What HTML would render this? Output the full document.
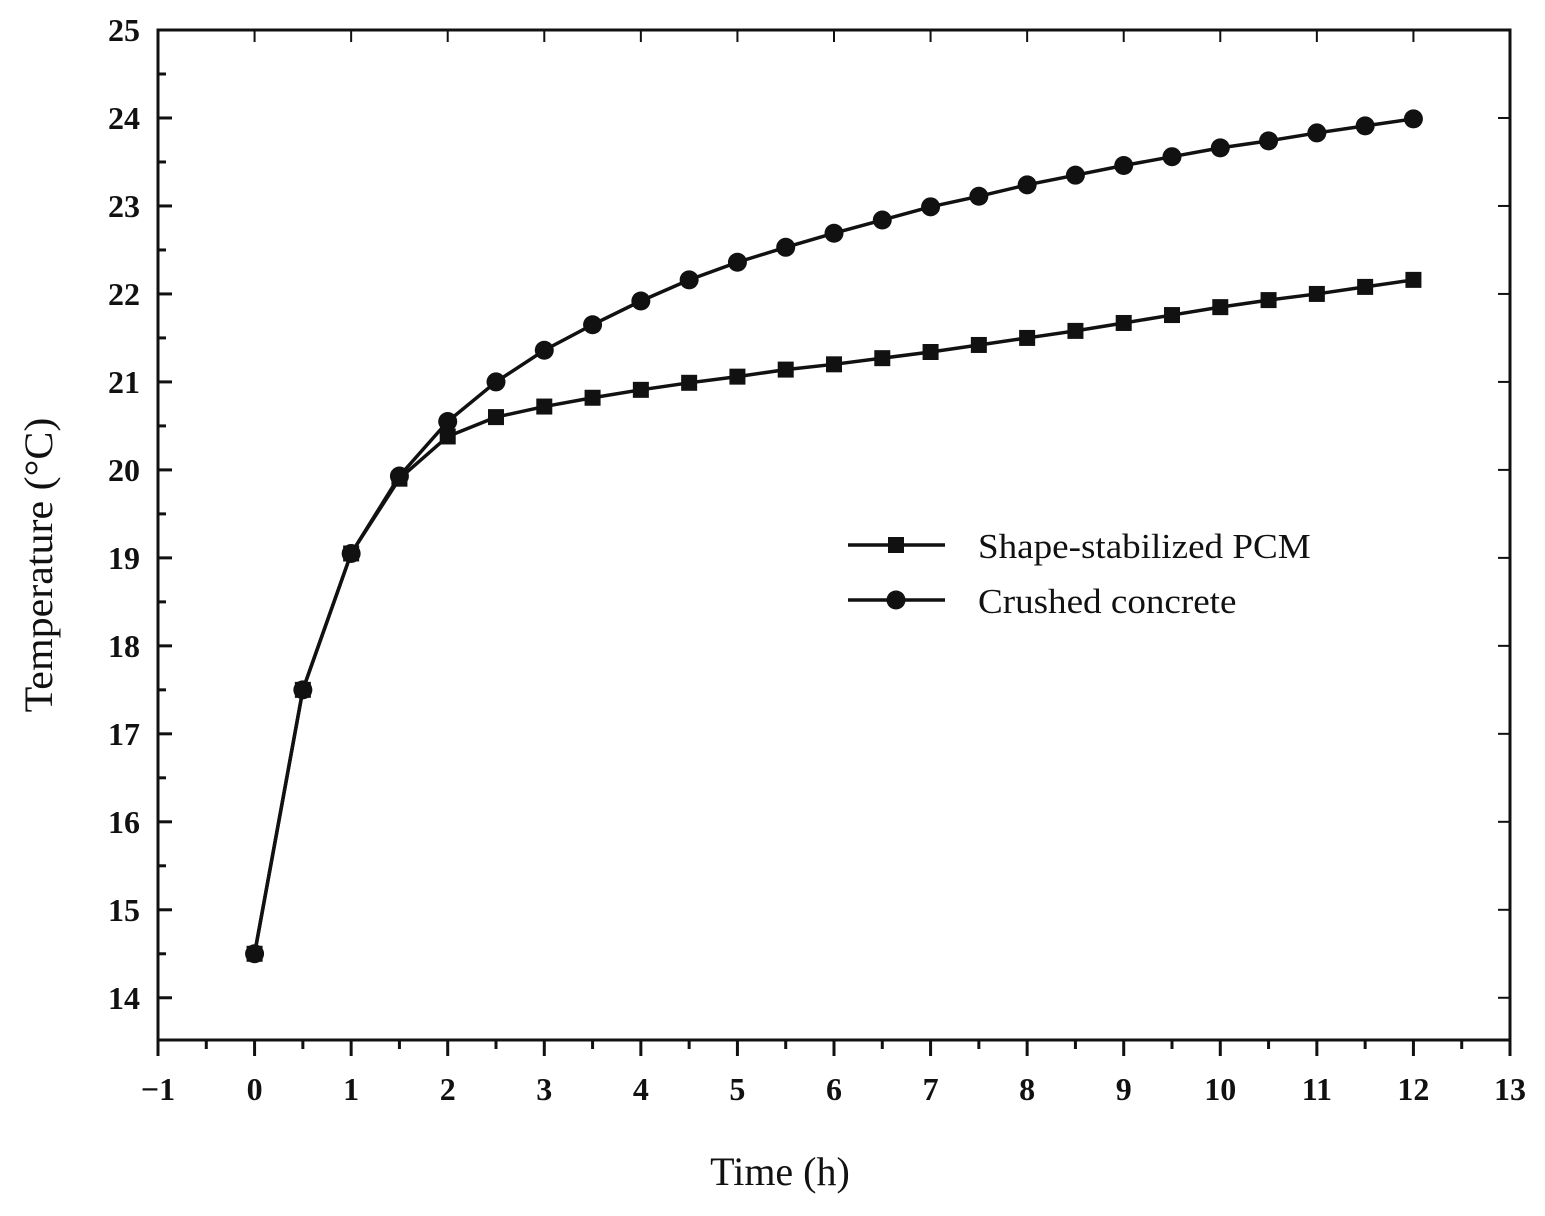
<!DOCTYPE html>
<html><head><meta charset="utf-8"><style>
html,body{margin:0;padding:0;background:#fff;}
svg{display:block;}
text{font-family:"Liberation Serif",serif;fill:#111;}
</style></head><body>
<svg id="chart" width="1545" height="1216" viewBox="0 0 1545 1216"></svg>
<script>
const times=[0,0.5,1,1.5,2,2.5,3,3.5,4,4.5,5,5.5,6,6.5,7,7.5,8,8.5,9,9.5,10,10.5,11,11.5,12];
const pcmValues=[14.5,17.5,19.05,19.9,20.38,20.6,20.72,20.82,20.91,20.99,21.06,21.14,21.2,21.27,21.34,21.42,21.5,21.58,21.67,21.76,21.85,21.93,22.0,22.08,22.16];
const concreteValues=[14.5,17.5,19.05,19.93,20.55,21.0,21.36,21.65,21.92,22.16,22.36,22.53,22.69,22.84,22.99,23.11,23.24,23.35,23.46,23.56,23.66,23.74,23.83,23.91,23.99];
const xTicks=[-1,0,1,2,3,4,5,6,7,8,9,10,11,12,13];
const yTicks=[14,15,16,17,18,19,20,21,22,23,24,25];
const seriesNames=["Shape-stabilized PCM","Crushed concrete"];

const L=158,R=1510,T=30,B=1040;
const xMin=-1,xMax=13,yMin=13.52,yMax=25;
const sx=v=>L+(v-xMin)/(xMax-xMin)*(R-L);
const sy=v=>B-(v-yMin)/(yMax-yMin)*(B-T);
const svg=document.getElementById('chart');
const NS='http://www.w3.org/2000/svg';
function mk(tag,attrs,parent){const e=document.createElementNS(NS,tag);for(const k in attrs)e.setAttribute(k,attrs[k]);(parent||svg).appendChild(e);return e;}

const frame=mk('rect',{x:L,y:T,width:R-L,height:B-T,fill:'none',stroke:'#111','stroke-width':3});



const xg=mk('g',{});


xTicks.forEach((t,i)=>{
  const x=sx(t);
  mk('line',{x1:x,y1:B,x2:x,y2:B+16,stroke:'#111','stroke-width':3},xg);
  mk('line',{x1:x,y1:T,x2:x,y2:T+12,stroke:'#111','stroke-width':2},xg);
  if(i<xTicks.length-1){const xm=sx(t+0.5);mk('line',{x1:xm,y1:B,x2:xm,y2:B+9,stroke:'#111','stroke-width':3},xg);}
  const lb=mk('text',{x:x,y:B+60,'font-size':32,'font-weight':'bold','text-anchor':'middle'},xg);
  lb.textContent=(t<0?'\u2212'+Math.abs(t):t);
  
  
});
const yg=mk('g',{});


yTicks.forEach((t,i)=>{
  const y=sy(t);
  mk('line',{x1:L,y1:y,x2:L+14,y2:y,stroke:'#111','stroke-width':3},yg);
  mk('line',{x1:R,y1:y,x2:R-12,y2:y,stroke:'#111','stroke-width':2},yg);
  if(i<yTicks.length-1){const ym=sy(t+0.5);mk('line',{x1:L,y1:ym,x2:L+8,y2:ym,stroke:'#111','stroke-width':3},yg);}
  const lb=mk('text',{x:L-18,y:y+11,'font-size':32,'font-weight':'bold','text-anchor':'end'},yg);
  lb.textContent=t;
  
  
});
const xt=mk('text',{x:780,y:1185,'font-size':40,'text-anchor':'middle'});
xt.textContent='Time (h)';


const yt=mk('text',{x:0,y:0,'font-size':40,'text-anchor':'middle',transform:'translate(52,565) rotate(-90) scale(1.05,1)'});
yt.textContent='Temperature (\u00B0C)';



function series(vals,shape,name){
  const g=mk('g',{});
  
  
  mk('polyline',{points:times.map((t,i)=>sx(t)+','+sy(vals[i])).join(' '),fill:'none',stroke:'#111','stroke-width':3.5},g);
  times.forEach((t,i)=>{
    const x=sx(t),y=sy(vals[i]);
    let m;
    if(shape==='sq') m=mk('rect',{x:x-8,y:y-8,width:16,height:16,fill:'#111'},g);
    else m=mk('circle',{cx:x,cy:y,r:9.5,fill:'#111'},g);
    
    
  });
}
series(concreteValues,'ci','series-crushed-concrete');
series(pcmValues,'sq','series-pcm');

const lg=mk('g',{});


[[545,'sq'],[600,'ci']].forEach((d,i)=>{
  const e=mk('g',{},lg);
  
  
  mk('line',{x1:848,y1:d[0],x2:945,y2:d[0],stroke:'#111','stroke-width':3.5},e);
  if(d[1]==='sq')mk('rect',{x:888,y:d[0]-8,width:16,height:16,fill:'#111'},e);
  else mk('circle',{cx:896,cy:d[0],r:9.5,fill:'#111'},e);
  const tx=mk('text',{x:0,y:0,'font-size':35,transform:'translate(978,'+(d[0]+13)+') scale(1.06,1)'},e);
  tx.textContent=seriesNames[i];
});
</script>
</body></html>
